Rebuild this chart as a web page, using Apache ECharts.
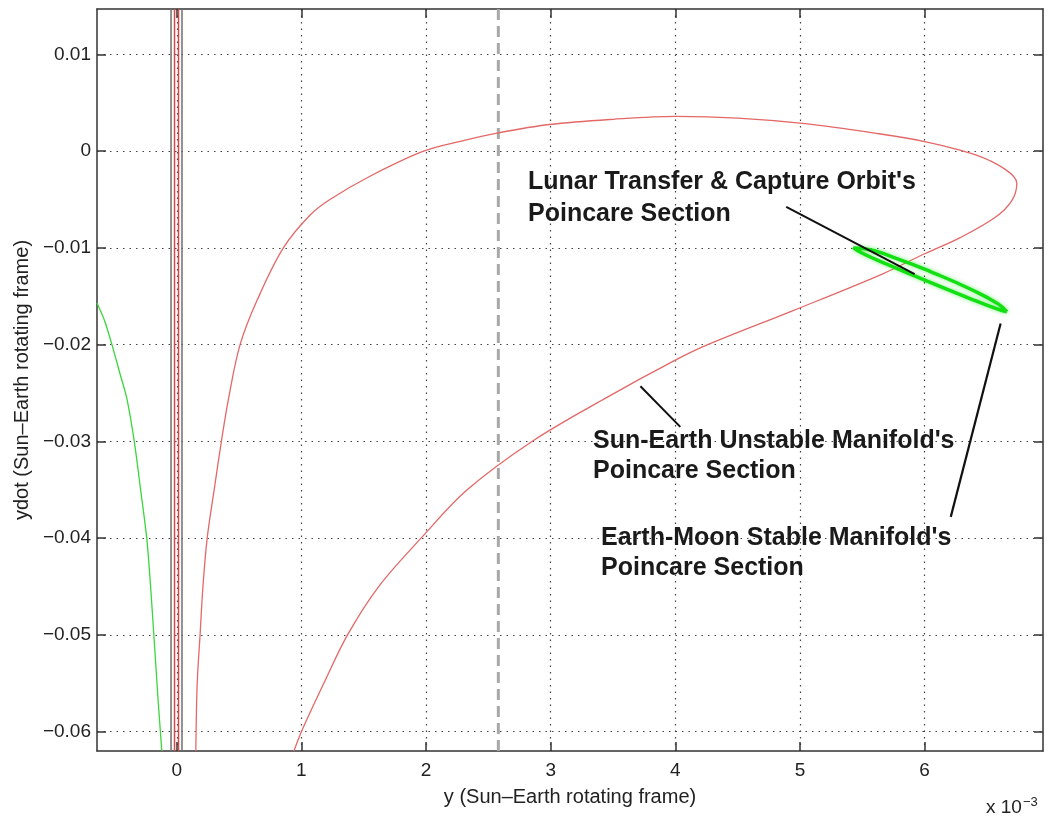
<!DOCTYPE html>
<html><head><meta charset="utf-8">
<script src="https://cdn.jsdelivr.net/npm/echarts@6/dist/echarts.min.js"></script>
<style>html,body{margin:0;padding:0;background:#fff}#c{width:1050px;height:819px}</style>
</head><body><div id="c"></div>
<script>
// x values are in units of 1e-3 (axis multiplier shown as "x 10^-3")
const xTicks = [0, 1, 2, 3, 4, 5, 6];
const xTickLabels = ['0', '1', '2', '3', '4', '5', '6'];
const yTicks = [0.01, 0, -0.01, -0.02, -0.03, -0.04, -0.05, -0.06];
const yTickLabels = ['0.01', '0', '\u22120.01', '\u22120.02', '\u22120.03', '\u22120.04', '\u22120.05', '\u22120.06'];
const xRange = [-0.64, 6.95];
const yRange = [-0.0620, 0.0147];

// Sun-Earth unstable manifold Poincare section (red)
const redManifold = [
  [0.153,-0.062],[0.164,-0.055],[0.187,-0.05],[0.21,-0.045],[0.244,-0.04],[0.30,-0.035],
  [0.358,-0.03],[0.415,-0.0256],[0.508,-0.02],[0.647,-0.01534],[0.855,-0.01],
  [1.07,-0.0066],[1.229,-0.005],[1.55,-0.00259],[1.98,0],[2.3,0.0011],
  [2.58,0.0019],[2.99,0.00276],[3.5,0.0033],[4.0,0.0036],[4.5,0.00343],[5.0,0.0029],
  [5.6,0.00187],[6.0,0.001],[6.41,-0.00038],[6.65,-0.0019],[6.74,-0.0033],[6.70,-0.0051],
  [6.57,-0.0068],[6.29,-0.0089],[6.0,-0.0106],[5.66,-0.0127],[4.95,-0.01645],[4.26,-0.02],
  [4.0,-0.0216],[3.43,-0.0256],[2.85,-0.03],[2.33,-0.035],[1.96,-0.04],
  [1.62,-0.045],[1.37,-0.05],[1.18,-0.055],[1.0,-0.06],[0.94,-0.062]
];
// green curve at left edge
const greenCurve = [
  [-0.64,-0.0157],[-0.58,-0.0175],[-0.52,-0.02],[-0.46,-0.0228],[-0.40,-0.0256],[-0.341,-0.03],
  [-0.29,-0.035],[-0.241,-0.04],[-0.21,-0.045],[-0.184,-0.05],[-0.15,-0.0567],[-0.12,-0.062]
];
// Earth-Moon stable manifold Poincare section (green closed loop)
const greenEllipse = [
  [6.66,-0.0166],[6.57,-0.01625],[6.34,-0.0151],[6.03,-0.01348],[5.72,-0.0118],[5.50,-0.01055],
  [5.43,-0.0100],[5.52,-0.01008],[5.75,-0.01097],[6.06,-0.01252],[6.37,-0.01427],[6.59,-0.01578],
  [6.66,-0.0166]
];
const transferPointer = [[4.89,-0.00576],[5.92,-0.0127]];
const unstablePointer = [[3.72,-0.0243],[4.04,-0.0285]];
const stablePointer = [[6.61,-0.0178],[6.21,-0.0378]];
const redVerticals = [-0.018, 0.014];
const grayVerticals = [-0.046, 0.042];
const dashedX = 2.58;

const labels = [
  { text: "Lunar Transfer & Capture Orbit's\nPoincare Section", x: 528, y: 166, lh: 32 },
  { text: "Sun-Earth Unstable Manifold's\nPoincare Section", x: 593, y: 426, lh: 30 },
  { text: "Earth-Moon Stable Manifold's\nPoincare Section", x: 601, y: 523, lh: 30 }
];

const FONT = 'Liberation Sans, Arial, Helvetica, sans-serif';
function vline(x) { return [[x, yRange[0]], [x, yRange[1]]]; }
function lineSeries(data, color, width, type, z, smooth) {
  return { type: 'line', data: data, symbol: 'none', silent: true, animation: false, z: z || 2,
    smooth: smooth || false,
    lineStyle: { color: color, width: width, type: type || 'solid' } };
}

const series = [];
grayVerticals.forEach(x => series.push(lineSeries(vline(x), '#6f6f6f', 1.5)));
redVerticals.forEach(x => series.push(lineSeries(vline(x), '#d44a4a', 1.5)));
series.push(lineSeries(vline(dashedX), '#a8a8a8', 3, [11, 6]));
series.push(lineSeries(redManifold, '#e36868', 1.3, 'solid', 2, 0.35));
series.push(lineSeries(greenCurve, '#3ad63a', 1.3, 'solid', 2, 0.3));
const ell = lineSeries(greenEllipse, '#12e012', 3.5, 'solid', 3, 0.5);
ell.lineStyle.shadowColor = 'rgba(40,230,40,0.6)';
ell.lineStyle.shadowBlur = 4;
series.push(ell);
series.push(lineSeries(transferPointer, '#111', 2, 'solid', 4));
series.push(lineSeries(unstablePointer, '#111', 2, 'solid', 4));
series.push(lineSeries(stablePointer, '#111', 2.2, 'solid', 4));

function fmtLookup(ticks, lbls) {
  return function (v) {
    for (let i = 0; i < ticks.length; i++) if (Math.abs(ticks[i] - v) < 1e-9) return lbls[i];
    return '';
  };
}
const axisLineStyle = { color: '#333', width: 1.5 };
const splitStyle = { show: true, lineStyle: { color: '#444', width: 1.2, type: [1.5, 5] } };

const option = {
  backgroundColor: '#fff',
  animation: false,
  grid: { left: 97, right: 7, top: 9, bottom: 68, containLabel: false },
  xAxis: [
    { type: 'value', min: xRange[0], max: xRange[1], position: 'bottom',
      axisLine: { show: true, onZero: false, lineStyle: axisLineStyle },
      axisTick: { show: true, inside: true, length: 9, customValues: xTicks, lineStyle: axisLineStyle },
      axisLabel: { show: true, customValues: xTicks, formatter: fmtLookup(xTicks, xTickLabels),
        color: '#222', fontFamily: FONT, fontSize: 19, margin: 10 },
      splitLine: splitStyle,
      name: 'y (Sun\u2013Earth rotating frame)', nameLocation: 'middle', nameGap: 36,
      nameTextStyle: { color: '#222', fontFamily: FONT, fontSize: 20 } },
    { type: 'value', min: xRange[0], max: xRange[1], position: 'top',
      axisLine: { show: true, onZero: false, lineStyle: axisLineStyle },
      axisTick: { show: true, inside: true, length: 9, customValues: xTicks, lineStyle: axisLineStyle },
      axisLabel: { show: false }, splitLine: { show: false } }
  ],
  yAxis: [
    { type: 'value', min: yRange[0], max: yRange[1], position: 'left',
      axisLine: { show: true, onZero: false, lineStyle: axisLineStyle },
      axisTick: { show: true, inside: true, length: 9, customValues: yTicks, lineStyle: axisLineStyle },
      axisLabel: { show: true, customValues: yTicks, formatter: fmtLookup(yTicks, yTickLabels),
        color: '#222', fontFamily: FONT, fontSize: 19, margin: 6 },
      splitLine: splitStyle,
      name: 'ydot (Sun\u2013Earth rotating frame)', nameLocation: 'middle', nameGap: 65,
      nameTextStyle: { color: '#222', fontFamily: FONT, fontSize: 20 } },
    { type: 'value', min: yRange[0], max: yRange[1], position: 'right',
      axisLine: { show: true, onZero: false, lineStyle: axisLineStyle },
      axisTick: { show: true, inside: true, length: 9, customValues: yTicks, lineStyle: axisLineStyle },
      axisLabel: { show: false }, splitLine: { show: false } }
  ],
  graphic: labels.map(l => ({
    type: 'text', left: l.x, top: l.y, silent: true, z: 10,
    style: { text: l.text, fill: '#1a1a1a', font: 'bold 25px ' + FONT, lineHeight: l.lh }
  })).concat([{
    type: 'text', left: 986, top: 796, silent: true, z: 10,
    style: { text: 'x 10{sup|\u22123}', fill: '#222', font: '19px ' + FONT,
      rich: { sup: { fontSize: 13, verticalAlign: 'top', padding: [0, 0, 10, 1], fontFamily: FONT, fill: '#222' } } }
  }]),
  series: series
};
const chart = echarts.init(document.getElementById('c'), null, { renderer: 'canvas' });
chart.setOption(option);
</script></body></html>
